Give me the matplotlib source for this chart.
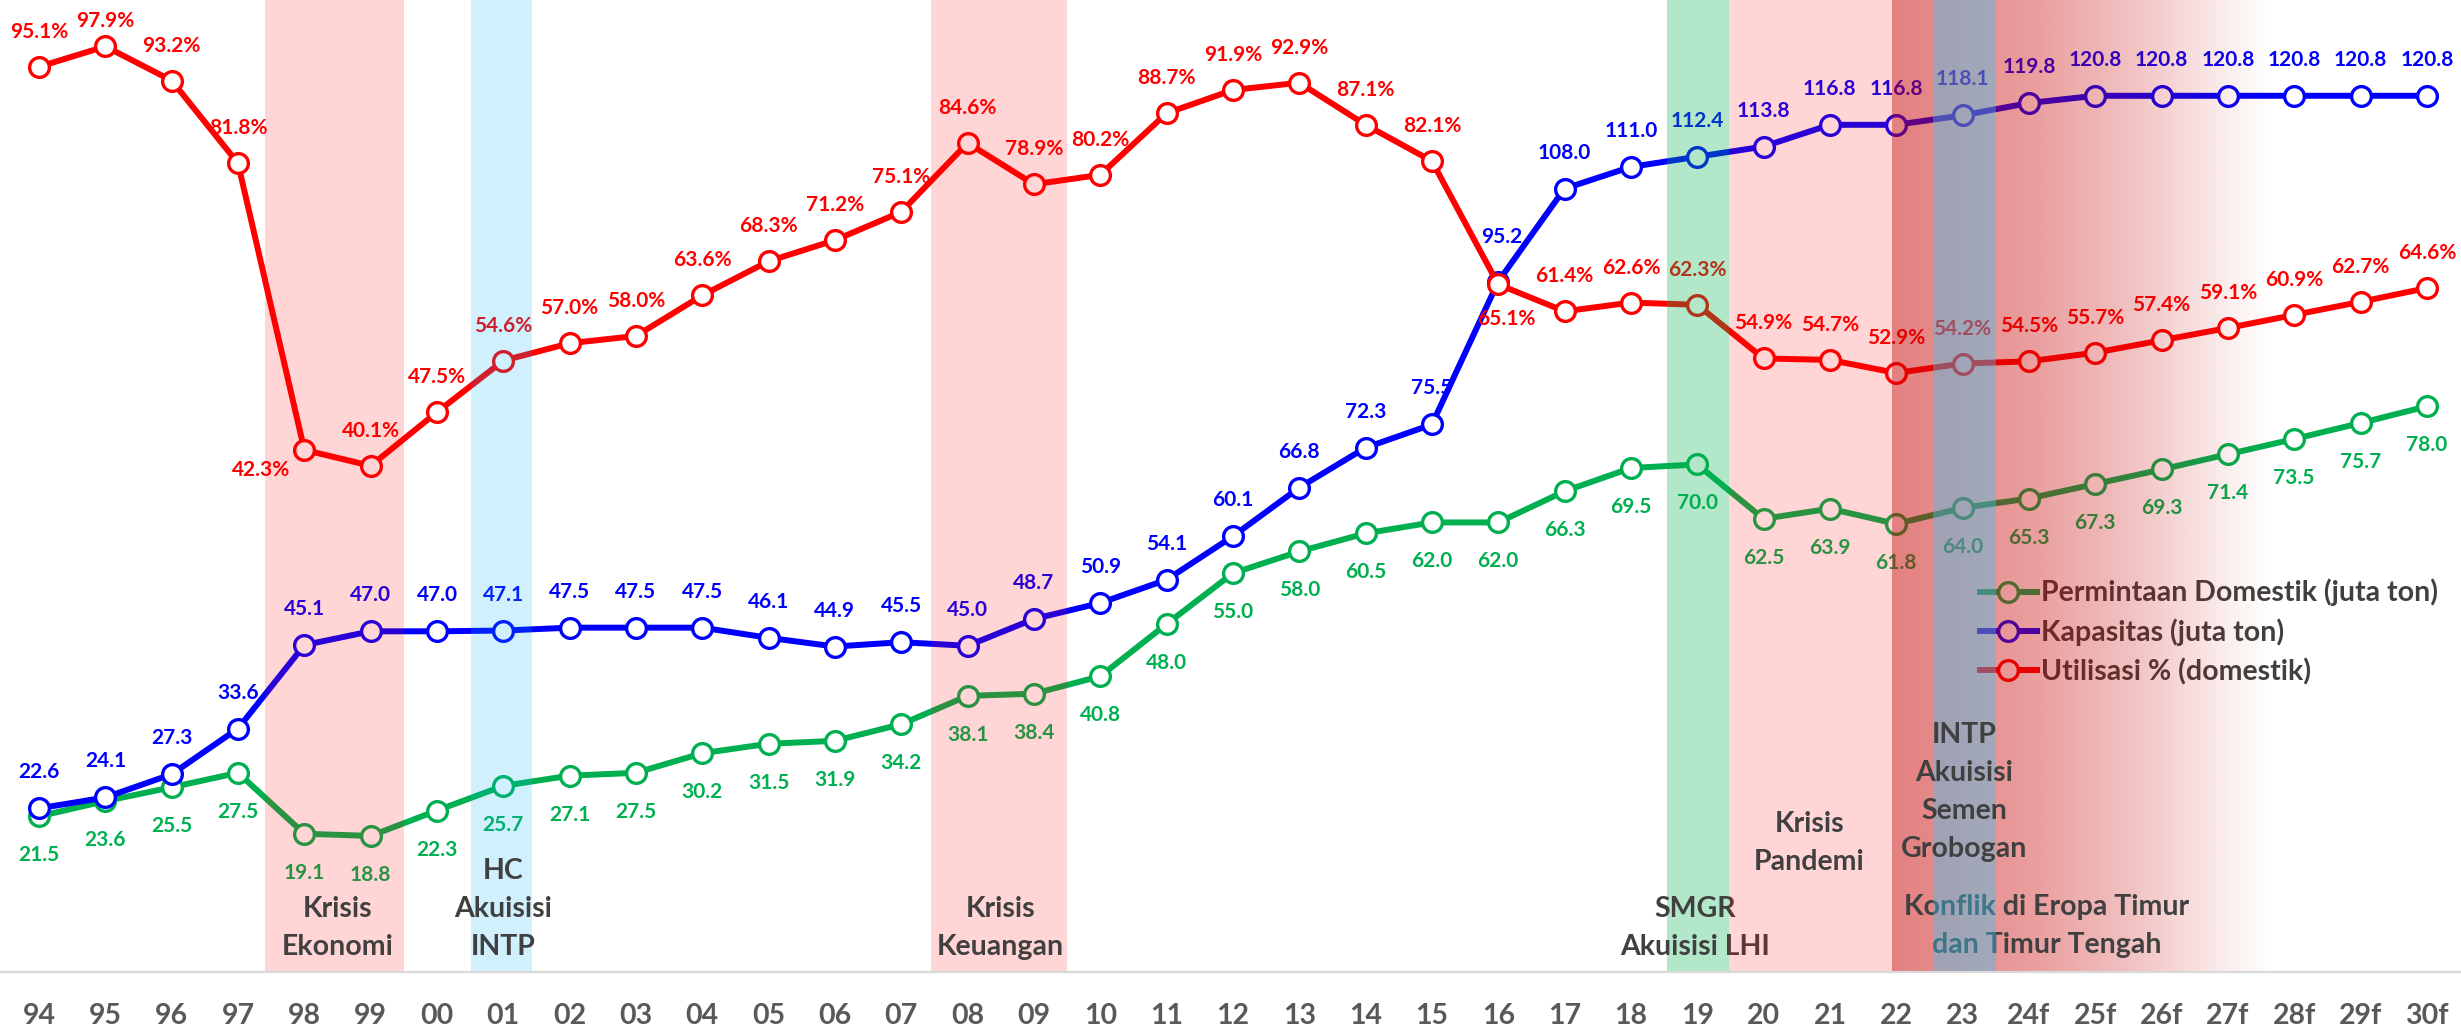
import matplotlib
matplotlib.use('Agg')
import matplotlib.pyplot as plt
import matplotlib.transforms as mtransforms
from matplotlib.lines import Line2D
import numpy as np

plt.rcParams['font.family'] = ['Lato', 'DejaVu Sans']
plt.rcParams['font.weight'] = 'bold'

years = ['94', '95', '96', '97', '98', '99', '00', '01', '02', '03', '04', '05',
         '06', '07', '08', '09', '10', '11', '12', '13', '14', '15', '16', '17',
         '18', '19', '20', '21', '22', '23', '24f', '25f', '26f', '27f', '28f',
         '29f', '30f']
demand = [21.5, 23.6, 25.5, 27.5, 19.1, 18.8, 22.3, 25.7, 27.1, 27.5, 30.2, 31.5,
          31.9, 34.2, 38.1, 38.4, 40.8, 48.0, 55.0, 58.0, 60.5, 62.0, 62.0, 66.3,
          69.5, 70.0, 62.5, 63.9, 61.8, 64.0, 65.3, 67.3, 69.3, 71.4, 73.5, 75.7, 78.0]
capacity = [22.6, 24.1, 27.3, 33.6, 45.1, 47.0, 47.0, 47.1, 47.5, 47.5, 47.5, 46.1,
            44.9, 45.5, 45.0, 48.7, 50.9, 54.1, 60.1, 66.8, 72.3, 75.5, 95.2, 108.0,
            111.0, 112.4, 113.8, 116.8, 116.8, 118.1, 119.8, 120.8, 120.8, 120.8,
            120.8, 120.8, 120.8]
utilization = [95.1, 97.9, 93.2, 81.8, 42.3, 40.1, 47.5, 54.6, 57.0, 58.0, 63.6, 68.3,
               71.2, 75.1, 84.6, 78.9, 80.2, 88.7, 91.9, 92.9, 87.1, 82.1, 65.1, 61.4,
               62.6, 62.3, 54.9, 54.7, 52.9, 54.2, 54.5, 55.7, 57.4, 59.1, 60.9, 62.7,
               64.6]

series_names = ['Permintaan Domestik (juta ton)', 'Kapasitas (juta ton)',
                'Utilisasi % (domestik)']

# event notes: text lines, centre x, baseline of last line (px above axis), zorder
events = [
    (['Krisis', 'Ekonomi'], 4.5, 17, 9),
    (['HC', 'Akuisisi', 'INTP'], 7.0, 17, 9),
    (['Krisis', 'Keuangan'], 14.5, 17, 9),
    (['SMGR', 'Akuisisi LHI'], 24.97, 17, 7),
    (['Krisis', 'Pandemi'], 26.69, 102, 9),
    (['INTP', 'Akuisisi', 'Semen', 'Grobogan'], 29.03, 115, 9),
    (['Konflik di Eropa Timur', 'dan Timur Tengah'], 30.27, 19, 7),
]

GREEN = '#00B050'
BLUE = '#0000FF'
RED = '#FF0000'
TXT = '#404040'

fig = plt.figure(figsize=(24.61, 10.31), dpi=100)
ax1 = fig.add_axes([0, 0.0569, 1, 0.9431])
ax2 = ax1.twinx()

x = np.arange(len(years))
lw, ms, mew = 4.3, 14.2, 2.4

ax1.plot(x, demand, color=GREEN, lw=lw, marker='o', ms=ms, mew=mew,
         mfc='white', mec=GREEN, zorder=2)
ax1.plot(x, capacity, color=BLUE, lw=lw, marker='o', ms=ms, mew=mew,
         mfc='white', mec=BLUE, zorder=3)
ax2.plot(x, utilization, color=RED, lw=lw, marker='o', ms=ms, mew=mew,
         mfc='white', mec=RED, zorder=3)

util_off = {1: (0, 25), 4: (-43, -20), 22: (8, -35)}
cap_off = {22: (4, 45)}
lab_fs = 15

for i in x:
    ax1.annotate(f'{demand[i]:.1f}', (i, demand[i]), xytext=(0, -39),
                 textcoords='offset pixels', ha='center', va='center',
                 color=GREEN, fontsize=lab_fs, zorder=4)
    dx, dy = cap_off.get(i, (0, 36))
    ax1.annotate(f'{capacity[i]:.1f}', (i, capacity[i]), xytext=(dx, dy),
                 textcoords='offset pixels', ha='center', va='center',
                 color=BLUE, fontsize=lab_fs, zorder=4)
    dx, dy = util_off.get(i, (0, 35))
    ax2.annotate(f'{utilization[i]:.1f}%', (i, utilization[i]), xytext=(dx, dy),
                 textcoords='offset pixels', ha='center', va='center',
                 color=RED, fontsize=lab_fs, zorder=4)

ax1.set_xlim(-0.588, 36.515)
ax1.set_ylim(0, 134)
ax2.set_ylim(-29.7, 104.3)

# shaded periods
ax2.axvspan(3.41, 5.5, color=(1, 0, 0), alpha=0.165, lw=0, zorder=8)
ax2.axvspan(6.51, 7.44, color=(0, 176/255, 240/255), alpha=0.19, lw=0, zorder=8)
ax2.axvspan(13.45, 15.5, color=(1, 0, 0), alpha=0.165, lw=0, zorder=8)
ax2.axvspan(24.55, 25.48, color=(0, 176/255, 80/255), alpha=0.3, lw=0, zorder=6)
ax2.axvspan(25.48, 27.94, color=(1, 0, 0), alpha=0.165, lw=0, zorder=8)

gx = np.linspace(27.94, 33.7, 600)
ga = np.interp(gx, [27.94, 29.5, 30.1, 31.5, 33.0, 33.7],
               [0.5, 0.42, 0.38, 0.25, 0.07, 0.0])
grad = np.zeros((1, len(gx), 4))
grad[..., 0] = 200 / 255
grad[..., 3] = ga
ylo, yhi = ax2.get_ylim()
ax2.imshow(grad, extent=[27.94, 33.7, ylo, yhi], aspect='auto',
           interpolation='bilinear', zorder=6)
ax2.axvspan(28.56, 29.5, color=(57/255, 200/255, 245/255), alpha=0.4, lw=0, zorder=8)

ax2.set_xlim(-0.588, 36.515)
ax2.set_ylim(ylo, yhi)

blend = mtransforms.blended_transform_factory(ax2.transData, ax2.transAxes)
for lines, xc, base, z in events:
    n = len(lines)
    for k, line in enumerate(lines):
        ax2.annotate(line, (xc, 0), xycoords=blend,
                     xytext=(0, base + 38 * (n - 1 - k)), textcoords='offset pixels',
                     ha='center', va='baseline', color=TXT, fontsize=20.5,
                     zorder=z, annotation_clip=False)

handles = [
    Line2D([], [], color=GREEN, lw=lw, marker='o', ms=ms, mew=mew, mfc='white', mec=GREEN),
    Line2D([], [], color=BLUE, lw=lw, marker='o', ms=ms, mew=mew, mfc='white', mec=BLUE),
    Line2D([], [], color=RED, lw=lw, marker='o', ms=ms, mew=mew, mfc='white', mec=RED),
]
leg = ax2.legend(handles, series_names, loc='center left',
                 bbox_to_anchor=(1980 / 2461, (1031 - 632) / 1031),
                 bbox_transform=fig.transFigure, frameon=False, fontsize=20.5,
                 labelcolor=TXT, handlelength=2.0, handletextpad=0.15,
                 labelspacing=0.42, borderpad=0, borderaxespad=0, numpoints=1)
leg.set_zorder(5)

for ax in (ax1, ax2):
    for s in ax.spines.values():
        s.set_visible(False)
    ax.set_yticks([])
ax2.spines['bottom'].set_visible(True)
ax2.spines['bottom'].set_color('#D9D9D9')
ax2.spines['bottom'].set_linewidth(1.6)
ax2.spines['bottom'].set_zorder(20)

ax1.set_xticks(x)
ax1.set_xticklabels(years)
ax1.tick_params(axis='x', length=0, pad=22, labelsize=20.5, labelcolor='#595959')

fig.savefig('out.png', dpi=100)
